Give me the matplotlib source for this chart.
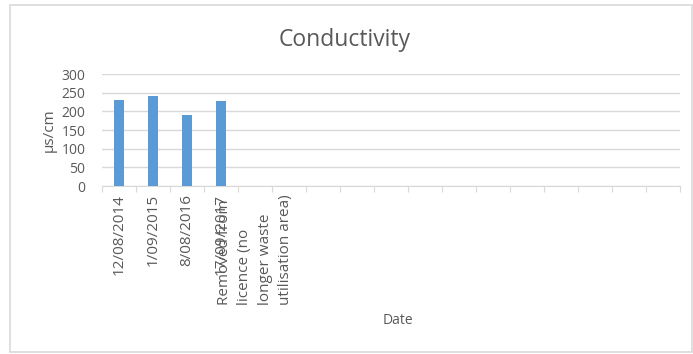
import matplotlib
matplotlib.use("Agg")
import matplotlib.pyplot as plt
from matplotlib.patches import Rectangle

categories = ["12/08/2014", "1/09/2015", "8/08/2016", "17/09/2017",
              "Removed from\nlicence (no\nlonger waste\nutilisation area)"] + [""] * 12
values = [230, 240, 190, 227] + [None] * 13
yticks = [0, 50, 100, 150, 200, 250, 300]

plt.rcParams['font.family'] = ['Open Sans', 'DejaVu Sans']
txt = '#595959'

fig = plt.figure(figsize=(6.93, 3.54), dpi=100)
fig.patches.append(Rectangle((10/693, 1-352/354), 682/693, 347/354, transform=fig.transFigure,
                             fill=False, edgecolor='#d9d9d9', linewidth=1.2))
ax = fig.add_axes([102/693, 1-186/354, 578/693, 112/354])

x = list(range(len(categories)))
bx = [i for i, v in zip(x, values) if v is not None]
bv = [v for v in values if v is not None]
ax.bar(bx, bv, width=0.3, color='#5b9bd5', zorder=3)

ax.set_xlim(-0.5, len(categories) - 0.5)
ax.set_ylim(0, 300)
ax.set_yticks(yticks)
ax.yaxis.grid(True, color='#d9d9d9', linewidth=1)
ax.set_axisbelow(True)
for s in ['top', 'right', 'left']:
    ax.spines[s].set_visible(False)
ax.spines['bottom'].set_color('#d9d9d9')
ax.tick_params(axis='y', length=0, colors=txt, labelsize=10, pad=12)
ax.set_xticks([i - 0.5 for i in range(len(categories) + 1)], minor=False)
ax.set_xticklabels([])
ax.tick_params(axis='x', which='major', length=4, color='#d9d9d9')
ax.set_xticks(x, minor=True)
labels = ax.set_xticklabels(categories, minor=True, rotation=90, color=txt, fontsize=11,
                            va='top', ha='center', linespacing=1.5)
for t in labels:
    t.set_multialignment('left')
ax.tick_params(axis='x', which='minor', length=0, pad=6)

fig.text(345/693, 1-40/354, 'Conductivity', color=txt, fontsize=16.5, ha='center', va='center')
ax.set_ylabel('µs/cm', color=txt, fontsize=11, labelpad=3)
fig.text(398/693, 1-320/354, 'Date', color=txt, fontsize=10, ha='center', va='center')

fig.savefig('out.png', dpi=100)
